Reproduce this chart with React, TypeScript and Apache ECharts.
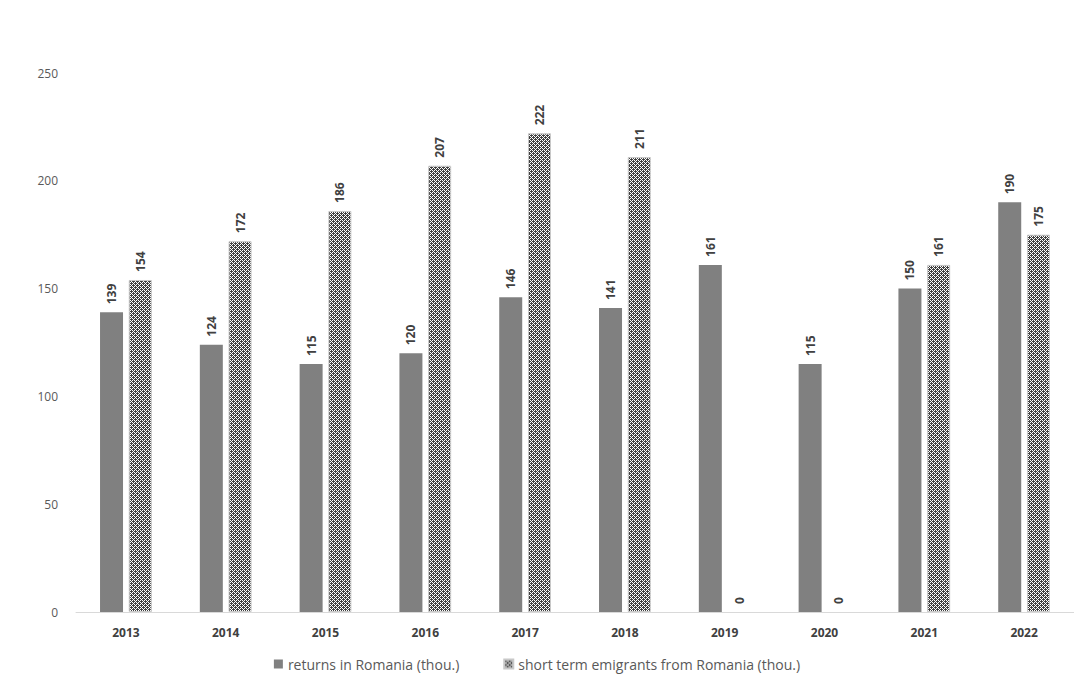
import React, { useEffect, useRef } from "react";
import * as echarts from "echarts";

const years = ["2013", "2014", "2015", "2016", "2017", "2018", "2019", "2020", "2021", "2022"];
const returnsVals = [139, 124, 115, 120, 146, 141, 161, 115, 150, 190];
const emigrantsVals = [154, 172, 186, 207, 222, 211, 0, 0, 161, 175];
const seriesNames = ["returns in Romania (thou.)", "short term emigrants from Romania (thou.)"];

function makePattern(): HTMLCanvasElement {
  const c = document.createElement("canvas");
  c.width = 4;
  c.height = 4;
  const ctx = c.getContext("2d")!;
  ctx.fillStyle = "#ffffff";
  ctx.fillRect(0, 0, 4, 4);
  ctx.fillStyle = "#404040";
  const dark = [
    [1, 0], [0, 1], [1, 1], [2, 1], [1, 2],
    [3, 2], [2, 3], [3, 3], [0, 3], [3, 0],
  ];
  dark.forEach(([x, y]) => ctx.fillRect(x, y, 1, 1));
  return c;
}

export default function App() {
  const ref = useRef<HTMLDivElement>(null);
  useEffect(() => {
    if (!ref.current) return;
    const chart = echarts.init(ref.current, undefined, { renderer: "svg" });
    const pattern = makePattern();
    const labelStyle = {
      show: true,
      position: "top" as const,
      rotate: 90,
      align: "left" as const,
      verticalAlign: "middle" as const,
      distance: 8,
      fontFamily: "Open Sans",
      fontSize: 12,
      fontWeight: "bold" as const,
      color: "#404040",
    };
    chart.setOption({
      animation: false,
      backgroundColor: "#ffffff",
      textStyle: { fontFamily: "Open Sans" },
      grid: { left: 76, right: 0, top: 73, bottom: 72 },
      legend: {
        bottom: 8,
        left: "center",
        icon: "rect",
        itemWidth: 9,
        itemHeight: 9,
        itemGap: 44,
        textStyle: { fontFamily: "Open Sans", fontSize: 14, color: "#595959" },
        data: seriesNames,
      },
      xAxis: {
        type: "category",
        data: years,
        axisLine: { show: true, lineStyle: { color: "#d9d9d9" } },
        axisTick: { show: false },
        axisLabel: { color: "#404040", fontSize: 12, fontWeight: "bold", margin: 14 },
      },
      yAxis: {
        type: "value",
        min: 0,
        max: 250,
        interval: 50,
        splitLine: { show: false },
        axisLine: { show: false },
        axisTick: { show: false },
        axisLabel: { color: "#595959", fontSize: 12, margin: 18 },
      },
      series: [
        {
          name: seriesNames[0],
          type: "bar",
          data: returnsVals,
          barWidth: 23,
          barGap: "25%",
          itemStyle: { color: "#808080" },
          label: labelStyle,
        },
        {
          name: seriesNames[1],
          type: "bar",
          data: emigrantsVals.map((v) => ({
            value: v,
            itemStyle: v === 0 ? { borderWidth: 0 } : undefined,
          })),
          barWidth: 23,
          itemStyle: {
            color: { image: pattern, repeat: "repeat" },
            borderColor: "#c8c8c8",
            borderWidth: 1,
          },
          label: labelStyle,
        },
      ],
    });
    return () => chart.dispose();
  }, []);
  return (
    <div
      ref={ref}
      style={{ position: "fixed", left: 0, top: 0, width: 1074, height: 684, background: "#fff" }}
    />
  );
}
